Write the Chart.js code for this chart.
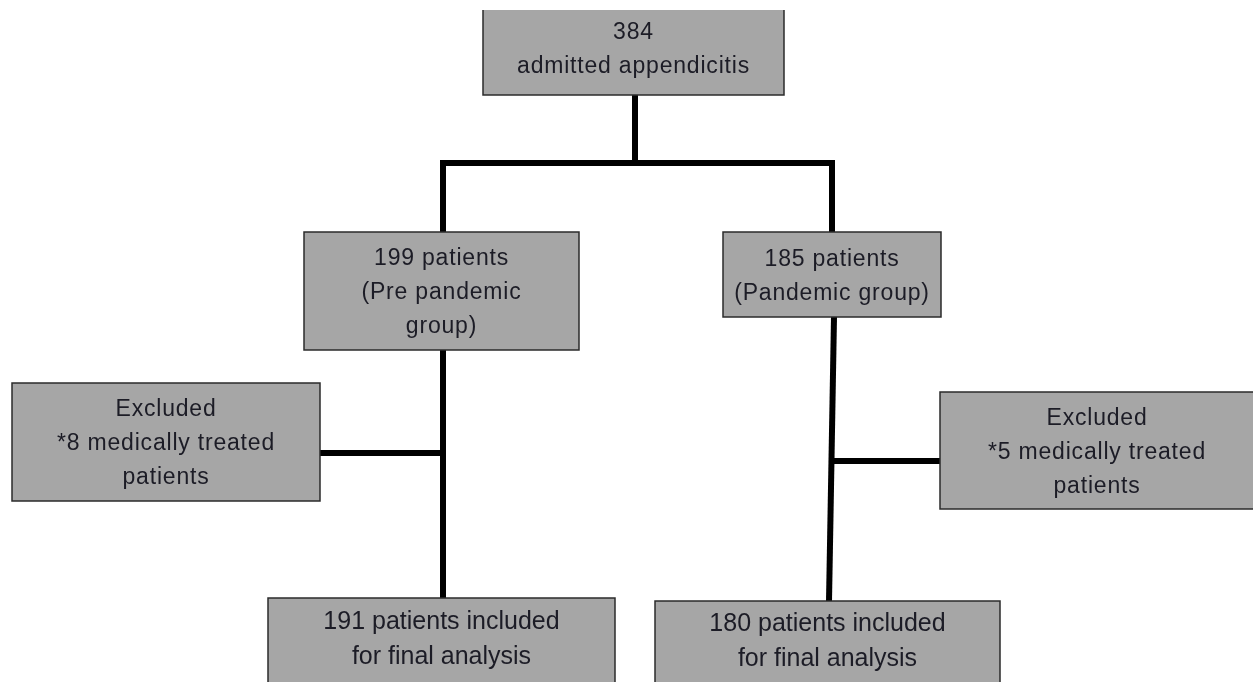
<!DOCTYPE html>
<html>
<head>
	<meta charset="utf-8">
	<title>Appendicitis flow</title>
	<style>
		html, body { margin: 0; padding: 0; background: #fff; }
		#wrap { width: 1253px; height: 682px; position: relative; }
	</style>
</head>
<body>
	<div id="wrap"><canvas id="myChart"></canvas></div>
	<script type="text/javascript" src="https://cdn.jsdelivr.net/npm/chart.js@4.4.0/dist/chart.umd.min.js"></script>
	<script type="text/javascript">
		// Box texts, one entry per box
		let boxLabels = [
			["384", "admitted appendicitis"],
			["199 patients", "(Pre pandemic", "group)"],
			["185 patients", "(Pandemic group)"],
			["Excluded", "*8 medically treated", "patients"],
			["Excluded", "*5 medically treated", "patients"],
			["191 patients included", "for final analysis"],
			["180 patients included", "for final analysis"],
		];
		let bottomText = [false, false, false, false, false, true, true];

		// Box corners in diagram units (x0, y0, x1, y1)
		let boxX0 = [483, 304, 723, 12, 940, 268, 655];
		let boxY0 = [0, 232, 232, 383, 392, 598, 601];
		let boxX1 = [784, 579, 941, 320, 1260, 615, 1000];
		let boxY1 = [95, 350, 317, 501, 509, 690, 690];
		let topWhite = 10; // picture starts with a thin white strip

		// Connector polylines
		let connectors = [
			[{x: 635, y: 95}, {x: 635, y: 163}],
			[{x: 443, y: 232}, {x: 443, y: 163}, {x: 832, y: 163}, {x: 832, y: 232}],
			[{x: 443, y: 350}, {x: 443, y: 598}],
			[{x: 320, y: 453}, {x: 443, y: 453}],
			[{x: 834, y: 317}, {x: 829, y: 601}],
			[{x: 833, y: 461}, {x: 940, y: 461}],
		];

		let boxPlugin = {
			id: "boxes",
			afterDatasetsDraw(chart) {
				let c = chart.ctx;
				let xs = chart.scales.x, ys = chart.scales.y;
				c.save();
				for (let i = 0; i < boxLabels.length; ++i) {
					let x0 = xs.getPixelForValue(boxX0[i]);
					let x1 = xs.getPixelForValue(boxX1[i]);
					let y0 = ys.getPixelForValue(Math.max(boxY0[i], topWhite));
					let y1 = ys.getPixelForValue(boxY1[i]);
					c.fillStyle = "#a6a6a6";
					c.fillRect(x0, y0, x1 - x0, y1 - y0);
					c.strokeStyle = "#2b2b2b";
					c.lineWidth = 1.5;
					c.beginPath();
					if (boxY0[i] < topWhite) {
						// top edge is cut off in the picture
						c.moveTo(x0, y0); c.lineTo(x0, y1); c.lineTo(x1, y1); c.lineTo(x1, y0);
					} else {
						c.rect(x0, y0, x1 - x0, y1 - y0);
					}
					c.stroke();

					// text centred in the box (bottom boxes are cut by the edge)
					let cy = ys.getPixelForValue((boxY0[i] + Math.min(boxY1[i], 682)) / 2) + (bottomText[i] ? 0 : 2);
					let cx = (x0 + x1) / 2;
					if (i == 4) cx = xs.getPixelForValue(1097);
					let lh = bottomText[i] ? 35 : 34;
					c.fillStyle = "#1c1c26";
					c.textAlign = "center";
					c.textBaseline = "middle";
					if (bottomText[i]) {
						c.font = "25px 'Liberation Sans', Arial";
						c.letterSpacing = "0px";
					} else {
						c.font = "23px 'Liberation Sans', Arial";
						c.letterSpacing = "0.8px";
					}
					let lines = boxLabels[i];
					for (let k = 0; k < lines.length; ++k) {
						c.fillText(lines[k], cx, cy + (k - (lines.length - 1) / 2) * lh);
					}
				}
				c.restore();
			}
		};

		let datasets = connectors.map((pts) => ({
			data: pts,
			showLine: true,
			borderColor: "#000",
			borderWidth: 6,
			borderJoinStyle: "miter",
			borderCapStyle: "butt",
			pointRadius: 0,
			tension: 0,
		}));

		let ctx = document.getElementById("myChart").getContext("2d");
		let myChart = new Chart(ctx, {
			type: "scatter",
			data: { datasets: datasets },
			options: {
				responsive: true,
				maintainAspectRatio: false,
				animation: false,
				layout: { padding: 0 },
				plugins: { legend: { display: false }, tooltip: { enabled: false } },
				scales: {
					x: { type: "linear", min: 0, max: 1253, display: false },
					y: { type: "linear", min: 0, max: 682, reverse: true, display: false },
				},
			},
			plugins: [boxPlugin],
		});
	</script>
</body>
</html>
